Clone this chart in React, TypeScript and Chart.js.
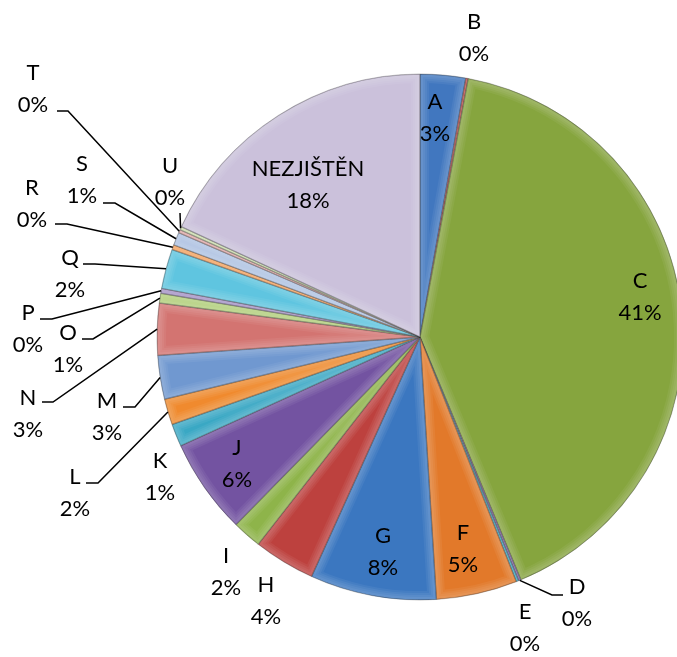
import { useEffect, useRef } from 'react';
import { Chart, registerables } from 'chart.js';

Chart.register(...registerables);

const categories = ['A', 'B', 'C', 'D', 'E', 'F', 'G', 'H', 'I', 'J', 'K', 'L', 'M', 'N', 'O', 'P', 'Q', 'R', 'S', 'T', 'U', 'NEZJIŠTĚN'];
const values = [2.8, 0.15, 41.0, 0.15, 0.15, 5.0, 7.8, 3.8, 1.8, 5.9, 1.4, 1.6, 2.7, 3.2, 0.6, 0.3, 2.45, 0.3, 0.8, 0.2, 0.2, 18.2];
const colors = ['#4177BF', '#C0504D', '#86A53E', '#7F63A3', '#3FA9C5', '#E2792A', '#3B77C0', '#BD413E', '#8EB44A', '#7353A1', '#3AA8C4', '#F08A2E', '#7098D0', '#D37471', '#B1CF7A', '#A592C6', '#5FC5E0', '#F5A25F', '#AFC2E3', '#E0A9A8', '#CDDEAE', '#CBC1DB'];

// label centres, as offsets from the pie centre (px at reference radius 263)
const labelOffsets: [number, number][] = [
  [15, -219], [54, -299], [220, -40], [157, 266], [105, 291], [43, 212], [-37, 215], [-154, 264],
  [-194, 235], [-183, 127], [-260, 140], [-345, 156], [-313, 80], [-392, 77], [-352, 12], [-392, -8],
  [-350, -63], [-388, -133], [-338, -157], [-387, -248], [-250, -155], [-112, -152],
];
// leader lines: [elbowDx, elbowDy, endDx] or null
const leaders: ([number, number, number] | null)[] = [
  null, null, null, [132, 258, 143], null, null, null, null,
  null, null, null, [-322, 146, -334], [-285, 70, -297], [-367, 65, -378], [-327, 2, -338], [-368, -18, -380],
  [-325, -73, -337], [-353, -113, -365], [-305, -134, -317], [-352, -226, -363], [-240, -124, -240], null,
];

const REF_R = 263;
const FONT = '22px Lato, "Open Sans", sans-serif';

const slicePlugin = {
  id: 'sliceDecor',
  afterDatasetsDraw(chart: any) {
    const ctx: CanvasRenderingContext2D = chart.ctx;
    const meta = chart.getDatasetMeta(0);
    const total = values.reduce((a, b) => a + b, 0);
    // soft bevel
    meta.data.forEach((arc: any) => {
      const { x, y, startAngle, endAngle, outerRadius } = arc.getProps(['x', 'y', 'startAngle', 'endAngle', 'outerRadius'], true);
      ctx.save();
      ctx.beginPath();
      ctx.moveTo(x, y);
      ctx.arc(x, y, outerRadius, startAngle, endAngle);
      ctx.closePath();
      ctx.clip();
      ctx.lineJoin = 'round';
      [18, 14, 10, 6].forEach((w) => {
        ctx.lineWidth = w;
        ctx.strokeStyle = 'rgba(255,255,255,0.055)';
        ctx.stroke();
      });
      ctx.lineWidth = 1.4;
      ctx.strokeStyle = 'rgba(0,0,0,0.2)';
      ctx.stroke();
      ctx.restore();
    });
    // leaders and labels
    ctx.save();
    ctx.font = FONT;
    ctx.fillStyle = '#000';
    ctx.textAlign = 'center';
    ctx.textBaseline = 'middle';
    meta.data.forEach((arc: any, i: number) => {
      const { x, y, startAngle, endAngle, outerRadius } = arc.getProps(['x', 'y', 'startAngle', 'endAngle', 'outerRadius'], true);
      const s = outerRadius / REF_R;
      const ld = leaders[i];
      if (ld) {
        const mid = (startAngle + endAngle) / 2;
        const sx = x + Math.cos(mid) * outerRadius;
        const sy = y + Math.sin(mid) * outerRadius;
        ctx.beginPath();
        ctx.moveTo(sx, sy);
        ctx.lineTo(x + ld[0] * s, y + ld[1] * s);
        ctx.lineTo(x + ld[2] * s, y + ld[1] * s);
        ctx.strokeStyle = '#000';
        ctx.lineWidth = 1.5;
        ctx.stroke();
      }
      const lx = x + labelOffsets[i][0] * s;
      const ly = y + labelOffsets[i][1] * s;
      const pct = Math.round((values[i] / total) * 100) + '%';
      ctx.fillText(categories[i], lx, ly - 16);
      ctx.fillText(pct, lx, ly + 16);
    });
    ctx.restore();
  },
};

export default function App() {
  const ref = useRef<HTMLCanvasElement>(null);
  useEffect(() => {
    if (!ref.current) return;
    const chart = new Chart(ref.current, {
      type: 'pie',
      data: {
        labels: categories,
        datasets: [
          {
            data: values,
            backgroundColor: colors,
            borderColor: 'rgba(40,40,40,0.35)',
            borderWidth: 0.8,
            radius: REF_R,
            clip: false,
          } as any,
        ],
      },
      options: {
        animation: false,
        responsive: false,
        devicePixelRatio: 1,
        layout: { padding: { left: 163, right: 0, top: 17, bottom: 0 } },
        plugins: { legend: { display: false }, tooltip: { enabled: false } },
      },
      plugins: [slicePlugin],
    });
    return () => chart.destroy();
  }, []);
  return (
    <div style={{ position: 'absolute', left: 0, top: 0, width: 677, height: 657, overflow: 'hidden', background: '#fff' }}>
      <canvas ref={ref} width={677} height={657} />
    </div>
  );
}
